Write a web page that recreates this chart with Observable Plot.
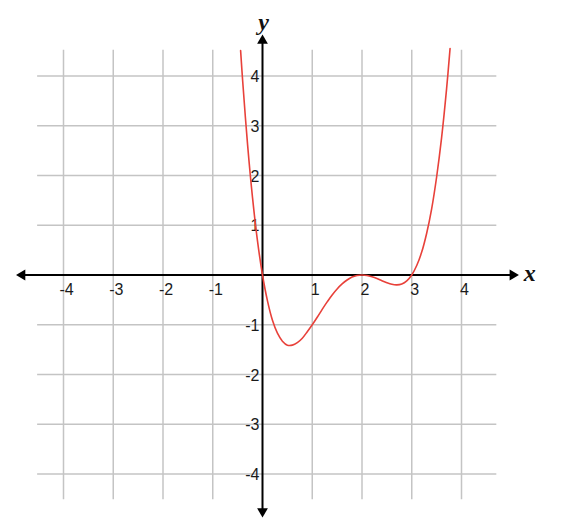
<!DOCTYPE html>
<html>
<head>
<meta charset="utf-8">
<script src="https://cdn.jsdelivr.net/npm/d3@7"></script>
<script src="https://cdn.jsdelivr.net/npm/@observablehq/plot@0.6"></script>
<style>
  html, body { margin: 0; padding: 0; background: #fff; }
</style>
</head>
<body>
<div id="chart"></div>
<script>
// Curve points
const curveX = [-0.44, -0.4, -0.3, -0.2, -0.1, 0, 0.1, 0.2, 0.3, 0.4, 0.5, 0.6, 0.7, 0.8, 0.9, 1.0,
  1.1, 1.2, 1.3, 1.4, 1.5, 1.6, 1.7, 1.8, 1.9, 2.0, 2.1, 2.2, 2.3, 2.4, 2.5, 2.6, 2.7, 2.8, 2.9, 3.0,
  3.1, 3.2, 3.3, 3.4, 3.5, 3.6, 3.7, 3.77];
const curveY = [4.51, 3.92, 2.62, 1.55, 0.68, 0, -0.52, -0.91, -1.17, -1.33, -1.41, -1.41, -1.36, -1.27, -1.14, -1.0,
  -0.85, -0.69, -0.54, -0.40, -0.28, -0.18, -0.10, -0.04, -0.01, 0, -0.01, -0.035, -0.07, -0.115, -0.156, -0.187, -0.198, -0.179, -0.117, 0,
  0.19, 0.46, 0.84, 1.33, 1.97, 2.76, 3.74, 4.55];
const xTicks = [-4, -3, -2, -1, 1, 2, 3, 4];
const yTicks = [-4, -3, -2, -1, 1, 2, 3, 4];
const gridX = [-4, -3, -2, -1, 1, 2, 3, 4];
const gridY = [-4, -3, -2, -1, 1, 2, 3, 4];

const curve = curveX.map((x, i) => ({x, y: curveY[i]}));

const U = 49.75;
const x0 = 262, y0 = 274.5;
const W = 562, H = 532;

const font = "'Liberation Sans', Arial, sans-serif";

const chart = Plot.plot({
  width: W,
  height: H,
  margin: 0,
  x: {domain: [-x0 / U, (W - x0) / U], axis: null},
  y: {domain: [-(H - y0) / U, y0 / U], axis: null},
  style: {fontFamily: font, background: "#fff", fontSize: "16px"},
  marks: [
    // grid
    Plot.ruleX(gridX, {y1: -4.52, y2: 4.52, stroke: "#c4c4c4", strokeWidth: 1.5}),
    Plot.ruleY(gridY, {x1: -4.52, x2: 4.71, stroke: "#c4c4c4", strokeWidth: 1.5}),
    // axes
    Plot.ruleY([0], {x1: -4.83, x2: 5.03, stroke: "#000", strokeWidth: 2}),
    Plot.ruleX([0], {y1: -4.75, y2: 4.71, stroke: "#000", strokeWidth: 2}),
    Plot.dot([{x: 5.03, y: 0}], {x: "x", y: "y", symbol: "triangle", r: 4, fill: "#000", stroke: null, rotate: 90}),
    Plot.dot([{x: -4.83, y: 0}], {x: "x", y: "y", symbol: "triangle", r: 4, fill: "#000", stroke: null, rotate: 270}),
    Plot.dot([{x: 0, y: 4.71}], {x: "x", y: "y", symbol: "triangle", r: 4, fill: "#000", stroke: null, rotate: 0}),
    Plot.dot([{x: 0, y: -4.75}], {x: "x", y: "y", symbol: "triangle", r: 4, fill: "#000", stroke: null, rotate: 180}),
    // tick labels
    Plot.text(xTicks, {x: d => d, y: 0, text: d => String(d), dx: 3, dy: 15, fontSize: 16, fill: "#1a1a1a"}),
    Plot.text(yTicks, {x: 0, y: d => d, text: d => String(d), textAnchor: "end", dx: -3, dy: 1, fontSize: 16, fill: "#1a1a1a"}),
    // axis names
    Plot.text(["y"], {x: 0, y: 5.08, text: d => d, fontSize: 24, fontStyle: "italic", fontWeight: "bold", fontFamily: "'Liberation Serif', 'DejaVu Serif', serif", fill: "#111", dx: 1}),
    Plot.text(["x"], {x: 5.37, y: 0, text: d => d, fontSize: 24, fontStyle: "italic", fontWeight: "bold", fontFamily: "'Liberation Serif', 'DejaVu Serif', serif", fill: "#111", dy: -2}),
    // curve
    Plot.line(curve, {x: "x", y: "y", curve: "catmull-rom", stroke: "#e8413a", strokeWidth: 1.6})
  ]
});

document.getElementById("chart").appendChild(chart);
</script>
</body>
</html>
